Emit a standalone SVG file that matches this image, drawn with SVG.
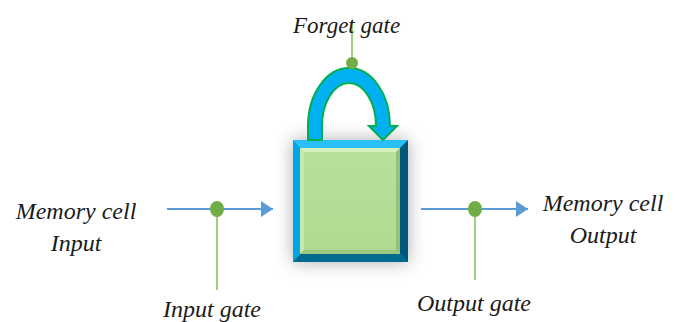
<svg xmlns="http://www.w3.org/2000/svg" width="675" height="322" viewBox="0 0 675 322">
<defs>
<style>
.lbl{font-family:"Liberation Serif","DejaVu Serif",serif;font-style:italic;font-size:24px;fill:#1a1a1a}
.flow{stroke:#5b9bd5;stroke-width:2;fill:none}
.stem{stroke:#7cc254;stroke-width:1.5;fill:none}
.dot{fill:#70ad47}
</style>
<marker id="ah" viewBox="0 0 12 16" refX="12" refY="8" markerWidth="12" markerHeight="16" markerUnits="userSpaceOnUse" orient="auto">
<path d="M0,0 L12,8 L0,16 Z" fill="#5b9bd5"/>
</marker>
<filter id="sh" x="-40%" y="-40%" width="180%" height="180%">
<feGaussianBlur stdDeviation="9"/>
</filter>
<linearGradient id="face" x1="0" y1="0" x2="0" y2="1">
<stop offset="0" stop-color="#b9e09c"/>
<stop offset="1" stop-color="#b0da92"/>
</linearGradient>
</defs>
<rect width="675" height="322" fill="#ffffff"/>
<g id="connectors">
<line class="flow" x1="167" y1="209" x2="273" y2="209" marker-end="url(#ah)"/>
<line class="flow" x1="421" y1="209" x2="528" y2="209" marker-end="url(#ah)"/>
</g>
<g id="memory-cell">
<rect x="293" y="140" width="115" height="122" fill="#8a8a8a" opacity="0.7" filter="url(#sh)"/>
<rect x="293" y="140" width="115" height="122" fill="#00b0f0"/>
<polygon points="293,140 408,140 400,148 300,148" fill="#29c0f5"/>
<polygon points="293,140 300,148 300,254 293,262" fill="#00a6e4"/>
<polygon points="408,140 408,262 400,254 400,148" fill="#00587a"/>
<polygon points="293,262 408,262 400,254 300,254" fill="#006a90"/>
<rect x="300" y="148" width="100" height="106" fill="url(#face)"/>
<polygon points="300,148 400,148 396,152 304,152" fill="#d3efbd"/>
<polygon points="300,148 304,152 304,250 300,254" fill="#c6e8ac"/>
<polygon points="400,148 400,254 396,250 396,152" fill="#96c277"/>
<polygon points="300,254 400,254 396,250 304,250" fill="#9cc77d"/>
</g>
<g id="forget-loop">
<path d="M308,140 L308,126 A41,58 0 0 1 390,126 L397,126 L383,140 L369,126 L376,126 A27,43 0 0 0 322,126 L322,140 Z" fill="#00b0f0" stroke="#00b050" stroke-width="2" stroke-linejoin="miter"/>
</g>
<g id="forget-gate">
<line class="stem" x1="352" y1="20" x2="352" y2="63"/>
<circle class="dot" cx="352" cy="63" r="6"/>
<text class="lbl" x="293" y="33" style="font-size:23px">Forget gate</text>
</g>
<g id="input-gate">
<line class="stem" x1="217" y1="209" x2="217" y2="290"/>
<ellipse class="dot" cx="217" cy="209" rx="7" ry="8"/>
<text class="lbl" x="163" y="317">Input gate</text>
</g>
<g id="output-gate">
<line class="stem" x1="475" y1="209" x2="475" y2="280"/>
<ellipse class="dot" cx="475" cy="209" rx="7" ry="8"/>
<text class="lbl" x="417" y="311">Output gate</text>
</g>
<g id="input-label">
<text class="lbl" x="76" y="219" text-anchor="middle">Memory cell</text>
<text class="lbl" x="76" y="251" text-anchor="middle">Input</text>
</g>
<g id="output-label">
<text class="lbl" x="603" y="211" text-anchor="middle">Memory cell</text>
<text class="lbl" x="603" y="243" text-anchor="middle">Output</text>
</g>
</svg>
